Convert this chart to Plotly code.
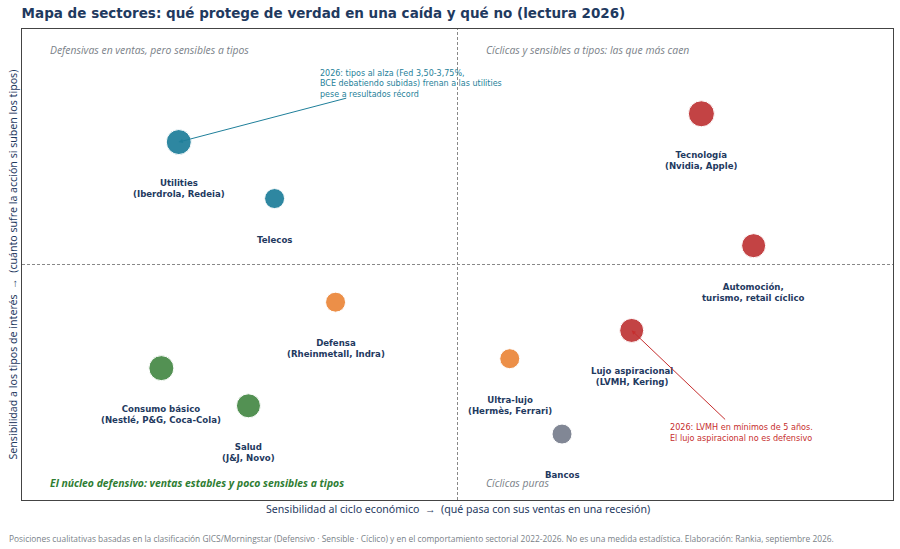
import plotly.graph_objects as go

# Mapa de sectores: ciclo vs tipos (posiciones cualitativas 0-10)
sectores = [
    "Utilities<br>(Iberdrola, Redeia)",
    "Telecos",
    "Tecnología<br>(Nvidia, Apple)",
    "Automoción,<br>turismo, retail cíclico",
    "Defensa<br>(Rheinmetall, Indra)",
    "Consumo básico<br>(Nestlé, P&G, Coca-Cola)",
    "Salud<br>(J&J, Novo)",
    "Ultra-lujo<br>(Hermès, Ferrari)",
    "Lujo aspiracional<br>(LVMH, Kering)",
    "Bancos",
]
ciclo = [1.8, 2.9, 7.8, 8.4, 3.6, 1.6, 2.6, 5.6, 7.0, 6.2]
tipos = [7.6, 6.4, 8.2, 5.4, 4.2, 2.8, 2.0, 3.0, 3.6, 1.4]
tamanos = [25, 20, 26, 24, 20, 25, 24, 20, 24, 20]
grupo = ["tipos", "tipos", "ciclico", "ciclico", "mixto",
         "defensivo", "defensivo", "mixto", "ciclico", "neutro"]

colores = {
    "tipos": "#23819c",
    "ciclico": "#c0393b",
    "mixto": "#ec8a3f",
    "defensivo": "#4a8c4a",
    "neutro": "#7b8190",
}

NAVY = "#1f3a5f"
GRIS = "#7a7f88"

fig = go.Figure()

fig.add_trace(go.Scatter(
    x=ciclo, y=tipos, mode="markers",
    marker=dict(size=tamanos, color=[colores[g] for g in grupo],
                opacity=0.95, line=dict(color="white", width=1)),
    hoverinfo="text", hovertext=sectores, showlegend=False,
))

# etiquetas bajo cada burbuja
for s, xv, yv in zip(sectores, ciclo, tipos):
    fig.add_annotation(
        x=xv, y=yv, text=f"<b>{s}</b>", showarrow=False,
        yanchor="top", yshift=-34,
        font=dict(family="DejaVu Sans", size=8.6, color=NAVY),
    )

# cuadrantes
fig.add_shape(type="line", x0=5, x1=5, y0=0, y1=10,
              line=dict(color="#888888", width=1, dash="3px,2px"))
fig.add_shape(type="line", x0=0, x1=10, y0=5, y1=5,
              line=dict(color="#888888", width=1, dash="3px,2px"))

quad = dict(family="Open Sans", size=10.4, color=GRIS)
fig.add_annotation(x=0.3, y=9.55, text="<i>Defensivas en ventas, pero sensibles a tipos</i>",
                   showarrow=False, xanchor="left", font=quad)
fig.add_annotation(x=5.3, y=9.55, text="<i>Cíclicas y sensibles a tipos: las que más caen</i>",
                   showarrow=False, xanchor="left", font=quad)
fig.add_annotation(x=5.3, y=0.36, text="<i>Cíclicas puras</i>",
                   showarrow=False, xanchor="left", font=quad)
fig.add_annotation(x=0.3, y=0.36,
                   text="<b><i>El núcleo defensivo: ventas estables y poco sensibles a tipos</i></b>",
                   showarrow=False, xanchor="left",
                   font=dict(family="Open Sans", size=10.4, color="#2e7d32"))

# notas con flecha
TEAL = "#1f7f9a"
ROJO = "#c62e2e"
fig.add_annotation(x=1.8, y=7.6, ax=3.74, ay=8.54, axref="x", ayref="y",
                   text="", showarrow=True, arrowhead=2, arrowsize=0.8,
                   arrowwidth=1, arrowcolor=TEAL)
fig.add_annotation(x=3.4, y=8.83,
                   text="2026: tipos al alza (Fed 3,50-3,75%,<br>BCE debatiendo subidas) frenan a las utilities<br>pese a resultados récord",
                   showarrow=False, xanchor="left", align="left",
                   font=dict(family="DejaVu Sans", size=8, color=TEAL))
fig.add_annotation(x=7.0, y=3.6, ax=8.09, ay=1.68, axref="x", ayref="y",
                   text="", showarrow=True, arrowhead=2, arrowsize=0.8,
                   arrowwidth=1, arrowcolor=ROJO)
fig.add_annotation(x=7.42, y=1.44,
                   text="2026: LVMH en mínimos de 5 años.<br>El lujo aspiracional no es defensivo",
                   showarrow=False, xanchor="left", align="left",
                   font=dict(family="DejaVu Sans", size=8.1, color=ROJO))

# titulos de ejes y pie
fig.add_annotation(xref="paper", yref="paper", x=0.5, y=0, yshift=-9, yanchor="middle",
                   text="Sensibilidad al ciclo económico  →  (qué pasa con sus ventas en una recesión)",
                   showarrow=False, font=dict(family="Noto Sans", size=10.6, color=NAVY))
fig.add_annotation(xref="paper", yref="paper", x=0, y=0.5, xshift=-10, textangle=-90,
                   xanchor="center", yanchor="middle",
                   text="Sensibilidad a los tipos de interés  →  (cuánto sufre la acción si suben los tipos)",
                   showarrow=False, font=dict(family="Noto Sans", size=10.6, color=NAVY))
fig.add_annotation(xref="paper", yref="paper", x=-0.017, y=0, yshift=-38, xanchor="left",
                   yanchor="middle",
                   text="Posiciones cualitativas basadas en la clasificación GICS/Morningstar (Defensivo · Sensible · Cíclico) y en el comportamiento sectorial 2022-2026. No es una medida estadística. Elaboración: Rankia, septiembre 2026.",
                   showarrow=False, font=dict(family="Open Sans", size=8.4, color=GRIS))

fig.update_xaxes(range=[0, 10], showgrid=False, zeroline=False, showticklabels=False,
                 ticks="", showline=True, mirror=True, linecolor="#444444", linewidth=1)
fig.update_yaxes(range=[0, 10], showgrid=False, zeroline=False, showticklabels=False,
                 ticks="", showline=True, mirror=True, linecolor="#444444", linewidth=1)

fig.update_layout(
    title=dict(text="<b>Mapa de sectores: qué protege de verdad en una caída y qué no (lectura 2026)</b>",
               x=0.024, xanchor="left", y=0.976, yanchor="middle",
               font=dict(family="DejaVu Sans", size=13.5, color=NAVY)),
    width=900, height=549,
    margin=dict(l=22, r=7, t=29, b=49, autoexpand=False),
    paper_bgcolor="white", plot_bgcolor="white",
)

# sin el margen de 8px del body para que el lienzo quede en 0,0
fig.write_html("out.html", config={"displayModeBar": False},
               post_script="document.body.style.margin='0';")
